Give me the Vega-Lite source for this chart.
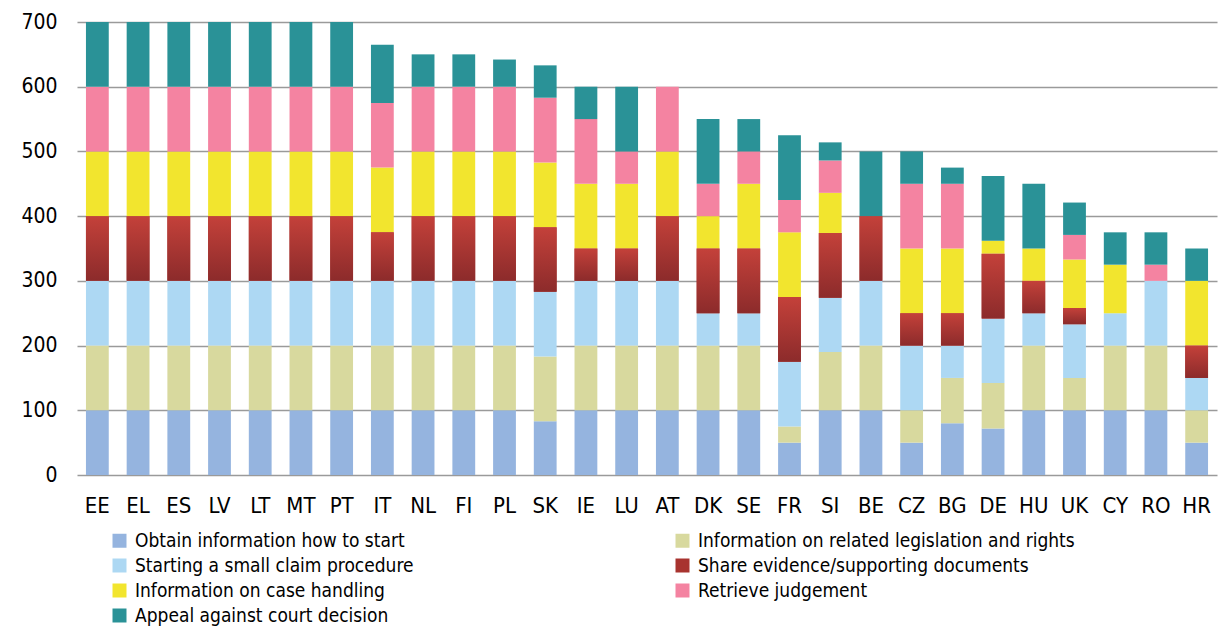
{
  "$schema": "https://vega.github.io/schema/vega-lite/v6.json",
  "width": 1140,
  "height": 453,
  "autosize": {"type": "none"},
  "padding": {"left": 77, "top": 22, "right": 3, "bottom": 153},
  "background": "white",
  "config": {
    "view": {"stroke": null},
    "font": "DejaVu Sans Condensed",
    "axis": {"labelFont": "DejaVu Sans Condensed", "labelColor": "#000000"},
    "legend": {"labelFont": "DejaVu Sans Condensed"}
  },
  "data": {
    "values": [
      {"country": "EE", "o": 100, "l": 100, "s": 100, "e": 100, "h": 100, "r": 100, "a": 100},
      {"country": "EL", "o": 100, "l": 100, "s": 100, "e": 100, "h": 100, "r": 100, "a": 100},
      {"country": "ES", "o": 100, "l": 100, "s": 100, "e": 100, "h": 100, "r": 100, "a": 100},
      {"country": "LV", "o": 100, "l": 100, "s": 100, "e": 100, "h": 100, "r": 100, "a": 100},
      {"country": "LT", "o": 100, "l": 100, "s": 100, "e": 100, "h": 100, "r": 100, "a": 100},
      {"country": "MT", "o": 100, "l": 100, "s": 100, "e": 100, "h": 100, "r": 100, "a": 100},
      {"country": "PT", "o": 100, "l": 100, "s": 100, "e": 100, "h": 100, "r": 100, "a": 100},
      {"country": "IT", "o": 100, "l": 100, "s": 100, "e": 75, "h": 100, "r": 100, "a": 90},
      {"country": "NL", "o": 100, "l": 100, "s": 100, "e": 100, "h": 100, "r": 100, "a": 50},
      {"country": "FI", "o": 100, "l": 100, "s": 100, "e": 100, "h": 100, "r": 100, "a": 50},
      {"country": "PL", "o": 100, "l": 100, "s": 100, "e": 100, "h": 100, "r": 100, "a": 42},
      {"country": "SK", "o": 83, "l": 100, "s": 100, "e": 100, "h": 100, "r": 100, "a": 50},
      {"country": "IE", "o": 100, "l": 100, "s": 100, "e": 50, "h": 100, "r": 100, "a": 50},
      {"country": "LU", "o": 100, "l": 100, "s": 100, "e": 50, "h": 100, "r": 50, "a": 100},
      {"country": "AT", "o": 100, "l": 100, "s": 100, "e": 100, "h": 100, "r": 100, "a": 0},
      {"country": "DK", "o": 100, "l": 100, "s": 50, "e": 100, "h": 50, "r": 50, "a": 100},
      {"country": "SE", "o": 100, "l": 100, "s": 50, "e": 100, "h": 100, "r": 50, "a": 50},
      {"country": "FR", "o": 50, "l": 25, "s": 100, "e": 100, "h": 100, "r": 50, "a": 100},
      {"country": "SI", "o": 100, "l": 90, "s": 84, "e": 100, "h": 62, "r": 50, "a": 28},
      {"country": "BE", "o": 100, "l": 100, "s": 100, "e": 100, "h": 0, "r": 0, "a": 100},
      {"country": "CZ", "o": 50, "l": 50, "s": 100, "e": 50, "h": 100, "r": 100, "a": 50},
      {"country": "BG", "o": 80, "l": 70, "s": 50, "e": 50, "h": 100, "r": 100, "a": 25},
      {"country": "DE", "o": 72, "l": 70, "s": 100, "e": 100, "h": 20, "r": 0, "a": 100},
      {"country": "HU", "o": 100, "l": 100, "s": 50, "e": 50, "h": 50, "r": 0, "a": 100},
      {"country": "UK", "o": 100, "l": 50, "s": 83, "e": 25, "h": 75, "r": 38, "a": 50},
      {"country": "CY", "o": 100, "l": 100, "s": 50, "e": 0, "h": 75, "r": 0, "a": 50},
      {"country": "RO", "o": 100, "l": 100, "s": 100, "e": 0, "h": 0, "r": 25, "a": 50},
      {"country": "HR", "o": 50, "l": 50, "s": 50, "e": 50, "h": 100, "r": 0, "a": 50}
    ]
  },
  "transform": [
    {"fold": ["o", "l", "s", "e", "h", "r", "a"], "as": ["key", "value"]},
    {"calculate": "indexof(['o','l','s','e','h','r','a'], datum.key)", "as": "ord"},
    {"calculate": "['Obtain information how to start','Information on related legislation and rights','Starting a small claim procedure','Share evidence/supporting documents','Information on case handling','Retrieve judgement','Appeal against court decision'][datum.ord]", "as": "task"},
    {"stack": "value", "groupby": ["country"], "sort": [{"field": "ord", "order": "ascending"}], "as": ["y0", "y1"]}
  ],
  "encoding": {
    "x": {
      "field": "country",
      "type": "nominal",
      "sort": null,
      "scale": {"paddingInner": 0.44, "paddingOuter": 0.22},
      "axis": {
        "title": null,
        "labelAngle": 0,
        "labelFontSize": 22,
        "labelPadding": 20,
        "ticks": false,
        "domain": false
      }
    },
    "y": {
      "field": "y0",
      "type": "quantitative",
      "scale": {"domain": [0, 700], "nice": false},
      "axis": {
        "title": null,
        "values": [0, 100, 200, 300, 400, 500, 600, 700],
        "labelFontSize": 21,
        "labelPadding": 20,
        "ticks": false,
        "domain": false,
        "grid": true,
        "gridColor": "#9a9a9a",
        "gridWidth": 1.6
      }
    },
    "y2": {"field": "y1"}
  },
  "layer": [
    {
      "mark": {"type": "bar"},
      "encoding": {
        "color": {
          "field": "task",
          "type": "nominal",
          "scale": {
            "domain": [
              "Obtain information how to start",
              "Starting a small claim procedure",
              "Information on case handling",
              "Appeal against court decision",
              "Information on related legislation and rights",
              "Share evidence/supporting documents",
              "Retrieve judgement"
            ],
            "range": ["#95B4DF", "#ADD8F3", "#F2E52E", "#2A9297", "#D8D99E", "#A8332F", "#F483A1"]
          },
          "legend": {
            "title": null,
            "orient": "none",
            "legendX": 33,
            "legendY": 509,
            "columns": 2,
            "columnPadding": 259,
            "rowPadding": 5,
            "symbolType": "square",
            "symbolSize": 196,
            "symbolStrokeWidth": 0,
            "labelFontSize": 19,
            "labelOffset": 6,
            "labelLimit": 600,
            "labelColor": "#000000"
          }
        }
      }
    },
    {
      "transform": [{"filter": "datum.key == 'e'"}],
      "mark": {
        "type": "bar",
        "color": {
          "gradient": "linear",
          "x1": 0, "y1": 0, "x2": 0, "y2": 1,
          "stops": [
            {"offset": 0, "color": "#C4413A"},
            {"offset": 1, "color": "#8C2B2B"}
          ]
        }
      },
      "encoding": {}
    }
  ]
}
